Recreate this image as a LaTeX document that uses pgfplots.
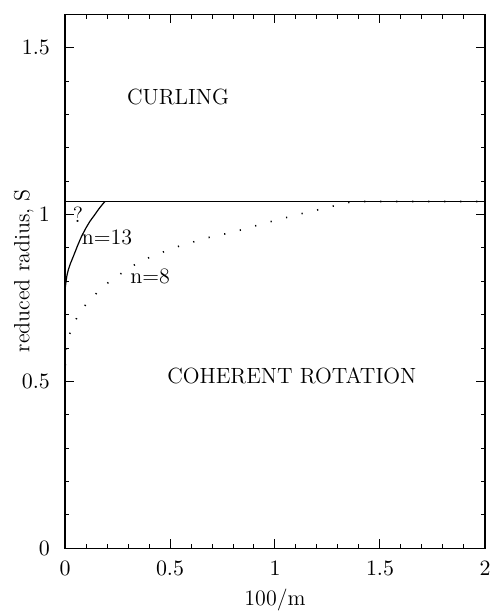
\documentclass[border=0pt]{standalone}
\usepackage{pgfplots}
\pgfplotsset{compat=1.18}
\begin{document}
\begin{tikzpicture}
\useasboundingbox (-32.5pt,-31.35pt) rectangle (213.5pt,274.15pt);
\begin{axis}[
  at={(0,0)}, anchor=south west,
  scale only axis, width=210pt, height=267pt,
  xmin=0, xmax=2, ymin=0, ymax=1.6,
  xtick={0,0.5,1,1.5,2}, ytick={0,0.5,1,1.5},
  minor xtick={0.1,0.2,0.3,0.4,0.6,0.7,0.8,0.9,1.1,1.2,1.3,1.4,1.6,1.7,1.8,1.9},
  minor ytick={0.1,0.2,0.3,0.4,0.6,0.7,0.8,0.9,1.1,1.2,1.3,1.4},
  tick align=inside, tick pos=both,
  major tick length=4.5pt, minor tick length=2.2pt,
  axis line style={line width=0.7pt},
  every tick/.style={line width=0.5pt, black},
  tick label style={font=\fontsize{11}{13}\selectfont},
  xticklabel style={yshift=-3pt},
  yticklabel style={xshift=-4pt},
  xlabel={100/m},
  ylabel={reduced radius, S},
  label style={font=\fontsize{11}{13}\selectfont},
  xlabel style={at={(axis description cs:0.5,0)}, anchor=center, yshift=-26pt},
  ylabel style={at={(axis description cs:-0.098,0.52)}, anchor=center},
  clip=false,
]
\addplot[black, line width=0.6pt] coordinates {(0,1.039) (2,1.039)};
\addplot[black, line width=0.6pt] coordinates {
(0,0.5) (0,0.775) (0.003,0.79) (0.006,0.805) (0.01,0.82) (0.016,0.835) (0.025,0.852)
(0.04,0.875) (0.06,0.907) (0.079,0.935) (0.1,0.96) (0.119,0.98) (0.14,0.998)
(0.159,1.015) (0.175,1.028) (0.19,1.039)};
\addplot[black, line width=0.8pt, dash pattern=on 0.6pt off 7.4pt] coordinates {
(0,0.5) (0.002,0.56) (0.006,0.595) (0.013,0.621) (0.024,0.645) (0.037,0.667)
(0.056,0.69) (0.075,0.711) (0.1,0.731) (0.159,0.77) (0.222,0.805) (0.357,0.86)
(0.516,0.9) (0.675,0.93) (0.798,0.947) (0.873,0.96) (0.949,0.974) (1.024,0.986)
(1.1,0.999) (1.178,1.01) (1.254,1.022) (1.33,1.033) (1.37,1.039) (2,1.039)};
\node[font=\fontsize{11}{13}\selectfont] at (axis cs:0.538,1.351) {CURLING};
\node[font=\fontsize{11}{13}\selectfont] at (axis cs:1.08,0.517) {COHERENT ROTATION};
\node[font=\fontsize{11}{13}\selectfont] at (axis cs:0.062,1.0) {?};
\node[font=\fontsize{11}{13}\selectfont] at (axis cs:0.2,0.932) {n=13};
\node[font=\fontsize{11}{13}\selectfont] at (axis cs:0.405,0.815) {n=8};
\end{axis}
\end{tikzpicture}
\end{document}
